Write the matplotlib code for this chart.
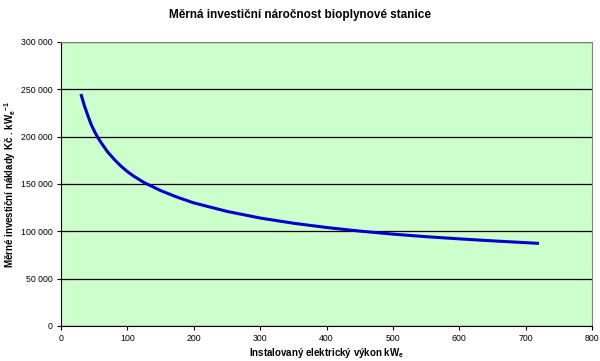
import matplotlib
matplotlib.use("Agg")
import matplotlib.pyplot as plt
from matplotlib.ticker import FuncFormatter

# Values
vykon = [30, 35, 40, 45, 50, 55, 60, 70, 80, 90, 100, 110, 125, 150, 175,
         200, 250, 300, 350, 400, 450, 500, 550, 600, 650, 700, 720]
naklady = [245000, 233000, 223000, 213500, 206000, 199500, 194000, 184000,
           176000, 169000, 163000, 158000, 151500, 143000, 136000,
           130000, 121000, 114000, 108500, 104000, 100200, 97000, 94300,
           92000, 89900, 88000, 87200]

plt.rcParams['font.family'] = ['Liberation Sans', 'DejaVu Sans']

fig = plt.figure(figsize=(6, 3.61), dpi=100)
ax = fig.add_axes([0.1017, 0.097, 0.885, 0.787])
ax.set_facecolor("#CCFFCC")

ax.plot(vykon, naklady, color="#0000CC", linewidth=2.2, solid_capstyle="butt")

ax.set_xlim(0, 800)
ax.set_ylim(0, 300000)
ax.set_xticks(range(0, 801, 100))
ax.set_yticks(range(0, 300001, 50000))
ax.yaxis.set_major_formatter(FuncFormatter(lambda v, p: f"{int(v):,}".replace(",", " ")))
ax.grid(axis="y", color="black", linewidth=0.9)
ax.set_axisbelow(True)
ax.tick_params(labelsize=6.3, length=3, width=0.8, direction="out", pad=3)

for s in ["top", "right"]:
    ax.spines[s].set_color("#808080")
for s in ["left", "bottom"]:
    ax.spines[s].set_color("black")

fig.suptitle("Měrná investiční náročnost bioplynové stanice", x=0.5, y=0.975,
             fontsize=8.5, fontweight="bold")
ax.set_xlabel("Instalovaný elektrický výkon kW$_\\mathregular{e}$", fontsize=7,
              fontweight="bold", labelpad=2)
ax.set_ylabel("Měrné investiční náklady Kč . kW$_\\mathregular{e}$$^\\mathregular{-1}$",
              fontsize=7, fontweight="bold", labelpad=2)

fig.savefig("out.png", dpi=100)
